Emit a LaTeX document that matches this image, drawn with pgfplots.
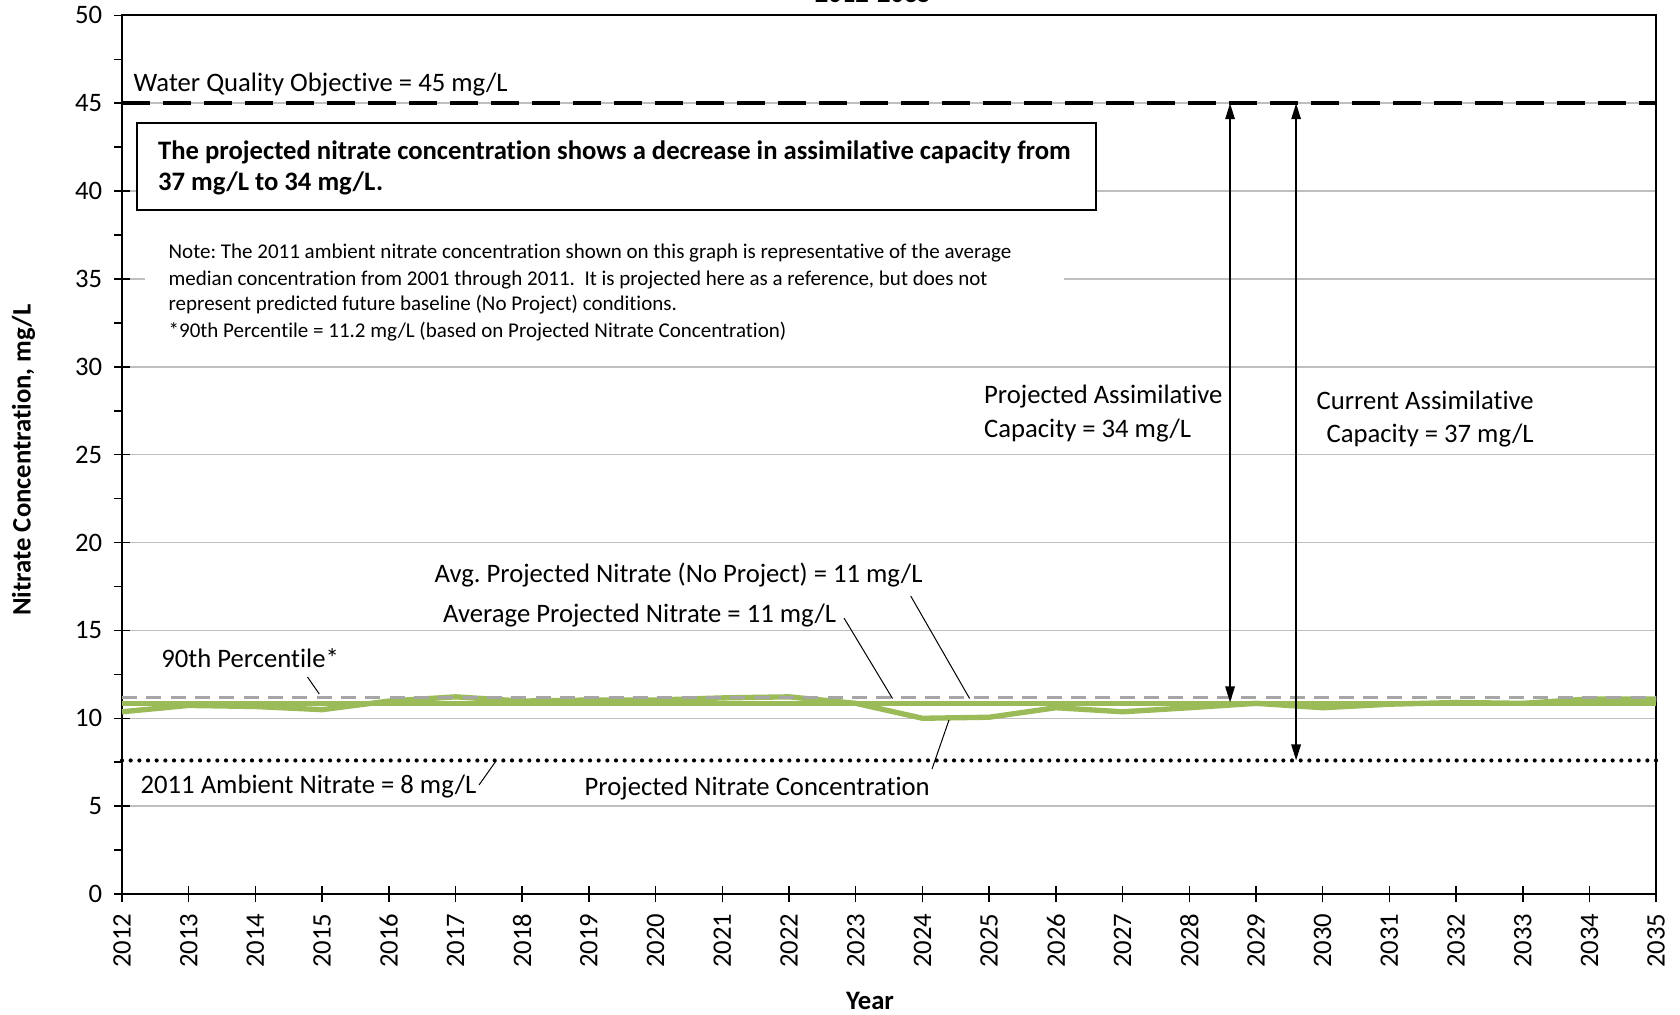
\documentclass[border=0pt]{standalone}
\usepackage{pgfplots}
\pgfplotsset{compat=1.18}
\usetikzlibrary{arrows.meta}
\usepackage{fontspec}
\setmainfont{Carlito}[Ligatures={NoCommon}]
\definecolor{grn}{HTML}{9BBB59}
\definecolor{grd}{HTML}{BFBFBF}
\definecolor{pct}{HTML}{A6A6A6}
\newcommand{\lab}{\fontsize{8}{9.8}\selectfont}
\newcommand{\note}{\fontsize{6.3}{7.7}\selectfont}

\begin{document}
\begin{tikzpicture}[x=0.3pt,y=0.3pt]
\path[use as bounding box] (0,0) rectangle (1680,1014);
\begin{axis}[
    at={(36.6pt,36pt)}, anchor=south west,
    width=460.3pt, height=263.6pt, scale only axis,
    xmin=2012, xmax=2035, ymin=0, ymax=50,
    xtick={2012,...,2035}, ytick={0,5,...,50},
    xtick pos=bottom, ytick pos=left,
    tick align=center, major tick length=4.8pt,
    extra y ticks={2.5,7.5,...,47.5}, extra y tick labels={},
    extra y tick style={tick align=outside, major tick length=2.4pt, grid=none},
    ymajorgrids, grid style={grd, line width=0.45pt},
    axis line style={black, line width=0.6pt},
    tick style={black, line width=0.45pt},
    /pgf/number format/assume math mode=true,
    /pgf/number format/1000 sep=,
    x tick label style={rotate=90, anchor=east, font=\lab},
    y tick label style={font=\lab},
    clip=false,
]
% projected nitrate concentration
\addplot[grn, line width=1.6pt] coordinates {
 (2012,10.37) (2013,10.73) (2014,10.67) (2015,10.49) (2016,10.98) (2017,11.22)
 (2018,10.98) (2019,11.04) (2020,11.04) (2021,11.16) (2022,11.22) (2023,10.85)
 (2024,10.0) (2025,10.06) (2026,10.6) (2027,10.37) (2028,10.6) (2029,10.85)
 (2030,10.6) (2031,10.8) (2032,10.9) (2033,10.85) (2034,11.1) (2035,11.1)};
% average projected nitrate
\addplot[grn, line width=1.6pt] coordinates {(2012,10.85) (2035,10.85)};
% 90th percentile
\addplot[pct, line width=1pt, dash pattern=on 4.5pt off 2.8pt] coordinates {(2012,11.2) (2035,11.2)};
% water quality objective
\addplot[black, line width=1.3pt, dash pattern=on 8.4pt off 3.9pt] coordinates {(2012,45) (2035,45)};
% 2011 ambient
\addplot[black, line width=1.25pt, line cap=round, dash pattern=on 0pt off 2.6pt] coordinates {(2012,7.6) (2035,7.6)};
\draw[line width=0.6pt, {Triangle[length=4.8pt,width=2.8pt]}-{Triangle[length=4.8pt,width=2.8pt]}]
  (axis cs:2028.61,45) -- (axis cs:2028.61,10.9);
\draw[line width=0.6pt, {Triangle[length=4.8pt,width=2.8pt]}-{Triangle[length=4.8pt,width=2.8pt]}]
  (axis cs:2029.6,45) -- (axis cs:2029.6,7.6);
\end{axis}
\begin{scope}[shift={(0,1014)}, yscale=-1, every node/.style={inner sep=0pt}]
  \fill[white] (145,225) rectangle (1064,345);
  \draw[fill=white, line width=0.6pt] (137,123) rectangle (1096,210);
  \node[anchor=base, font=\lab\bfseries] at (873,3) {2012-2035};
  \node[anchor=mid west, font=\lab] at (133,84) {Water Quality Objective = 45 mg/L};
  \node[anchor=mid west, font=\lab\bfseries] at (157.5,152) {The projected nitrate concentration shows a decrease in assimilative capacity from};
  \node[anchor=mid west, font=\lab\bfseries] at (157.5,183) {37 mg/L to 34 mg/L.};
  \node[anchor=mid west, font=\note] at (168,251) {Note:\ The 2011 ambient nitrate concentration shown on this graph is representative of the average};
  \node[anchor=mid west, font=\note] at (168,277.5) {median concentration from 2001 through 2011.\ \ It is projected here as a reference, but does not};
  \node[anchor=mid west, font=\note] at (168,303) {represent predicted future baseline (No Project) conditions.};
  \node[anchor=mid west, font=\note] at (168,330) {*90th Percentile = 11.2 mg/L (based on Projected Nitrate Concentration)};
  \node[anchor=mid west, font=\lab] at (983.5,396) {Projected Assimilative};
  \node[anchor=mid west, font=\lab] at (983.5,430) {Capacity = 34 mg/L};
  \node[anchor=mid west, font=\lab] at (1316,402) {Current Assimilative};
  \node[anchor=mid west, font=\lab] at (1326,435) {Capacity = 37 mg/L};
  \node[anchor=mid west, font=\lab] at (434,575) {Avg.\ Projected Nitrate (No Project) = 11 mg/L};
  \node[anchor=mid west, font=\lab] at (442.5,615) {Average Projected Nitrate = 11 mg/L};
  \node[anchor=mid west, font=\lab] at (160.7,660) {90th Percentile*};
  \node[anchor=mid west, font=\lab] at (140,786) {2011 Ambient Nitrate = 8 mg/L};
  \node[anchor=mid west, font=\lab] at (584,787.5) {Projected Nitrate Concentration};
  \draw[line width=0.3pt] (844,618) -- (892.5,698.5);
  \draw[line width=0.3pt] (910.7,596) -- (969.6,698.5);
  \draw[line width=0.3pt] (307.5,677) -- (319.3,694);
  \draw[line width=0.3pt] (479,785) -- (496,761);
  \draw[line width=0.3pt] (932,769) -- (949,720);
  \node[rotate=90, font=\lab\bfseries] at (23.6,460) {Nitrate Concentration, mg/L};
  \node[font=\lab\bfseries] at (870,1000.7) {Year};
\end{scope}
\end{tikzpicture}
\end{document}
